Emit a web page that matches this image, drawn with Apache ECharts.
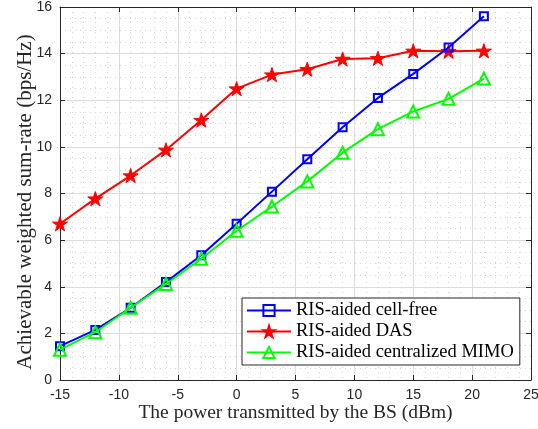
<!DOCTYPE html>
<html><head><meta charset="utf-8">
<script src="https://cdn.jsdelivr.net/npm/echarts@6/dist/echarts.min.js"></script>
<style>html,body{margin:0;padding:0;background:#fff}#c{width:538px;height:429px}</style>
</head><body><div id="c"></div>
<script>
var powerDbm = [-15, -12, -9, -6, -3, 0, 3, 6, 9, 12, 15, 18, 21];
var cellFree = [1.45, 2.15, 3.1, 4.2, 5.35, 6.7, 8.08, 9.47, 10.84, 12.1, 13.13, 14.26, 15.6];
var das = [6.7, 7.78, 8.77, 9.87, 11.15, 12.5, 13.1, 13.33, 13.77, 13.8, 14.12, 14.1, 14.12];
var centralMimo = [1.3, 2.05, 3.1, 4.12, 5.2, 6.4, 7.44, 8.52, 9.75, 10.76, 11.52, 12.06, 12.93];
var seriesNames = ['RIS-aided cell-free', 'RIS-aided DAS', 'RIS-aided centralized MIMO'];
var xTitle = 'The power transmitted by the BS (dBm)';
var yTitle = 'Achievable weighted sum-rate (bps/Hz)';

function pairs(ys){ return powerDbm.map(function(x,i){ return [x, ys[i]]; }); }
var STAR = 'path://M50,0L61.2,34.6L97.6,34.5L68.1,55.9L79.4,90.5L50,69L20.6,90.5L31.9,55.9L2.4,34.5L38.8,34.6Z';
var serifFont = '"Liberation Serif", "DejaVu Serif", serif';
var sansFont = '"Liberation Sans", Arial, sans-serif';
var axisCol = '#262626';

function mkX(pos, show){
  return {
    type:'value', min:-15, max:25, interval:5, position:pos,
    name: show ? xTitle : '', nameLocation:'middle', nameGap:23, nameMoveOverlap:false,
    nameTextStyle:{fontFamily:serifFont, fontSize:19.5, color:axisCol},
    axisLine:{show:true, onZero:false, lineStyle:{color:axisCol, width:1}},
    axisTick:{show:true, inside:true, length:5, lineStyle:{color:axisCol}},
    axisLabel:{show:show, fontFamily:sansFont, fontSize:14, color:axisCol, margin:8},
    splitLine:{show:show, lineStyle:{color:'#dcdcdc', width:1}},
    minorTick:{show:false, splitNumber:5},
    minorSplitLine:{show:show, lineStyle:{color:'#d4d4d4', type:[1,4], width:1}}
  };
}
function mkY(pos, show){
  return {
    type:'value', min:0, max:16, interval:2, position:pos,
    name: show ? yTitle : '', nameLocation:'middle', nameGap:24, nameMoveOverlap:false,
    nameTextStyle:{fontFamily:serifFont, fontSize:21, color:axisCol, padding:[0,17,0,0]},
    axisLine:{show:true, onZero:false, lineStyle:{color:axisCol, width:1}},
    axisTick:{show:true, inside:true, length:5, lineStyle:{color:axisCol}},
    axisLabel:{show:show, fontFamily:sansFont, fontSize:14, color:axisCol, margin:8},
    splitLine:{show:show, lineStyle:{color:'#dcdcdc', width:1}},
    minorTick:{show:false, splitNumber:4},
    minorSplitLine:{show:show, lineStyle:{color:'#d4d4d4', type:[1,4], width:1}}
  };
}

var chart = echarts.init(document.getElementById('c'), null, {renderer:'canvas'});
chart.setOption({
  animation:false,
  backgroundColor:'#fff',
  grid:{left:60, right:7, top:7, bottom:49, containLabel:false, outerBoundsMode:'none'},
  xAxis:[mkX('bottom', true), mkX('top', false)],
  yAxis:[mkY('left', true), mkY('right', false)],
  legend:{
    orient:'vertical', left:242, top:298,
    backgroundColor:'#fff', borderColor:'#262626', borderWidth:1,
    padding:[3,6,3,4], itemGap:2, itemWidth:44, itemHeight:14,
    textStyle:{fontFamily:serifFont, fontSize:18.5, color:'#000'},
    data:seriesNames
  },
  series:[
    {name:seriesNames[0], type:'line', data:pairs(cellFree), symbol:'rect', symbolSize:8,
     lineStyle:{color:'#0000ff', width:2}, itemStyle:{color:'rgba(0,0,0,0)', borderColor:'#0000ff', borderWidth:2}, z:3},
    {name:seriesNames[1], type:'line', data:pairs(das), symbol:STAR, symbolSize:15, symbolKeepAspect:true,
     lineStyle:{color:'#ff0000', width:2}, itemStyle:{color:'#ff0000', borderColor:'#ff0000', borderWidth:1}, z:2},
    {name:seriesNames[2], type:'line', data:pairs(centralMimo), symbol:'triangle', symbolSize:12,
     lineStyle:{color:'#00ff00', width:2}, itemStyle:{color:'rgba(0,0,0,0)', borderColor:'#00ff00', borderWidth:2}, z:4}
  ]
});
</script></body></html>
